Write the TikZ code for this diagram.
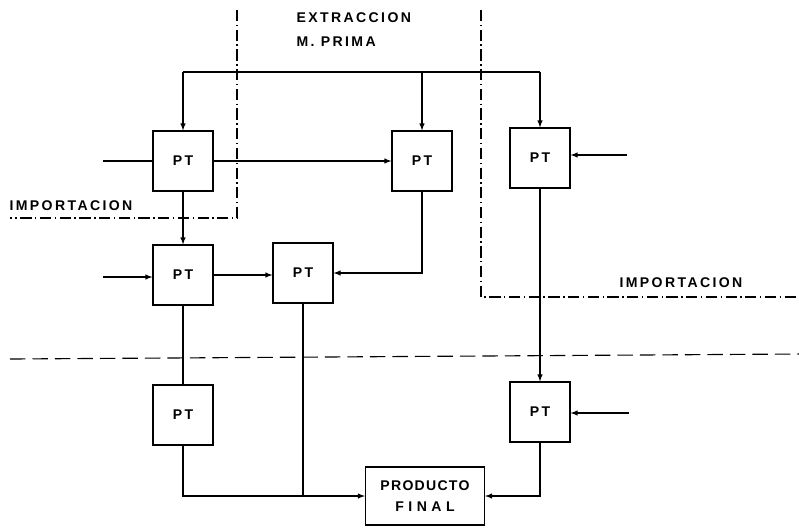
\documentclass[tikz,border=0pt]{standalone}
\usepackage{fontspec}
\setmainfont{Liberation Sans}
\newfontfamily\lblfont[LetterSpace=17]{Liberation Sans}
\newfontfamily\widefont[LetterSpace=32]{Liberation Sans}
\usepackage{tikz}
\usetikzlibrary{arrows}

\begin{document}
\begin{tikzpicture}[x=0.025cm,y=-0.025cm,>=latex,line width=0.75pt,
    pt/.style={draw, minimum width=1.5cm, minimum height=1.5cm, font=\lblfont\bfseries\fontsize{10}{12}\selectfont},
    lbl/.style={inner sep=0pt, font=\lblfont\bfseries\fontsize{10}{12}\selectfont},
    boundary/.style={line width=0.8pt, dash pattern=on 8pt off 2.5pt on 1pt off 2.5pt},
    zone/.style={line width=0.8pt, dash pattern=on 11pt off 5pt}]
    \useasboundingbox (0,0) rectangle (799,528);
    % transformation stages
    \node[pt] (pt1) at (183,161) {PT};
    \node[pt] (pt2) at (422,161) {PT};
    \node[pt] (pt3) at (540,158) {PT};
    \node[pt] (pt4) at (183,275) {PT};
    \node[pt] (pt5) at (303,273) {PT};
    \node[pt] (pt6) at (183,415) {PT};
    \node[pt] (pt7) at (540,412) {PT};
    \node[pt, minimum width=2.975cm, minimum height=1.45cm, align=center,
          font=\bfseries\fontsize{10}{12}\selectfont] (pf) at (425,496)
          {\addfontfeature{LetterSpace=9}PRODUCTO\\[3.5pt] {\widefont FINAL}};

    % boundaries
    \draw[boundary] (237,10) -- (237,218) -- (10,218);
    \draw[boundary] (481,10) -- (481,297) -- (799,297);
    \draw[zone] (10,359) -- (799,354);
    \node[lbl, anchor=west] (imp1) at (9,206) {IMPORTACION};
    \node[lbl, anchor=west] (imp2) at (619,283) {IMPORTACION};
    \node[lbl, anchor=north west, align=left] (extr) at (296,12) {EXTRACCION\\[5pt] M. PRIMA};

    % raw material feed
    \coordinate (feed) at (360,72);
    \draw (feed -| pt1) -- (feed -| pt3);
    \draw[->] (feed -| pt1) -- (pt1.north);
    \draw[->] (feed -| pt2) -- (pt2.north);
    \draw[->] (feed -| pt3) -- (pt3.north);

    % inputs
    \coordinate (in1) at (103,161);
    \coordinate (in3) at (627,155);
    \coordinate (in4) at (103,277);
    \coordinate (in7) at (629,413);
    \draw (in1) -- (pt1.west);
    \draw[->] (in3) -- (in3 -| pt3.east);
    \draw[->] (in4) -- (in4 -| pt4.west);
    \draw[->] (in7) -- (in7 -| pt7.east);

    % flows
    \draw[->] (pt1.east) -- (pt2.west);
    \draw[->] (pt1.south) -- (pt4.north);
    \draw[->] (pt4.east) -- (pt4.east -| pt5.west);
    \draw[->] (pt2.south) |- (pt5.east);
    \draw[->] (pt3.south) -- (pt7.north);
    \draw (pt4.south) -- (pt6.north);
    \coordinate (join) at (pt5.south |- pf.west);
    \draw (pt5.south) -- (join);
    \draw[->] (pt6.south) |- (pf.west);
    \draw[->] (pt7.south) |- (pf.east);
\end{tikzpicture}
\end{document}
